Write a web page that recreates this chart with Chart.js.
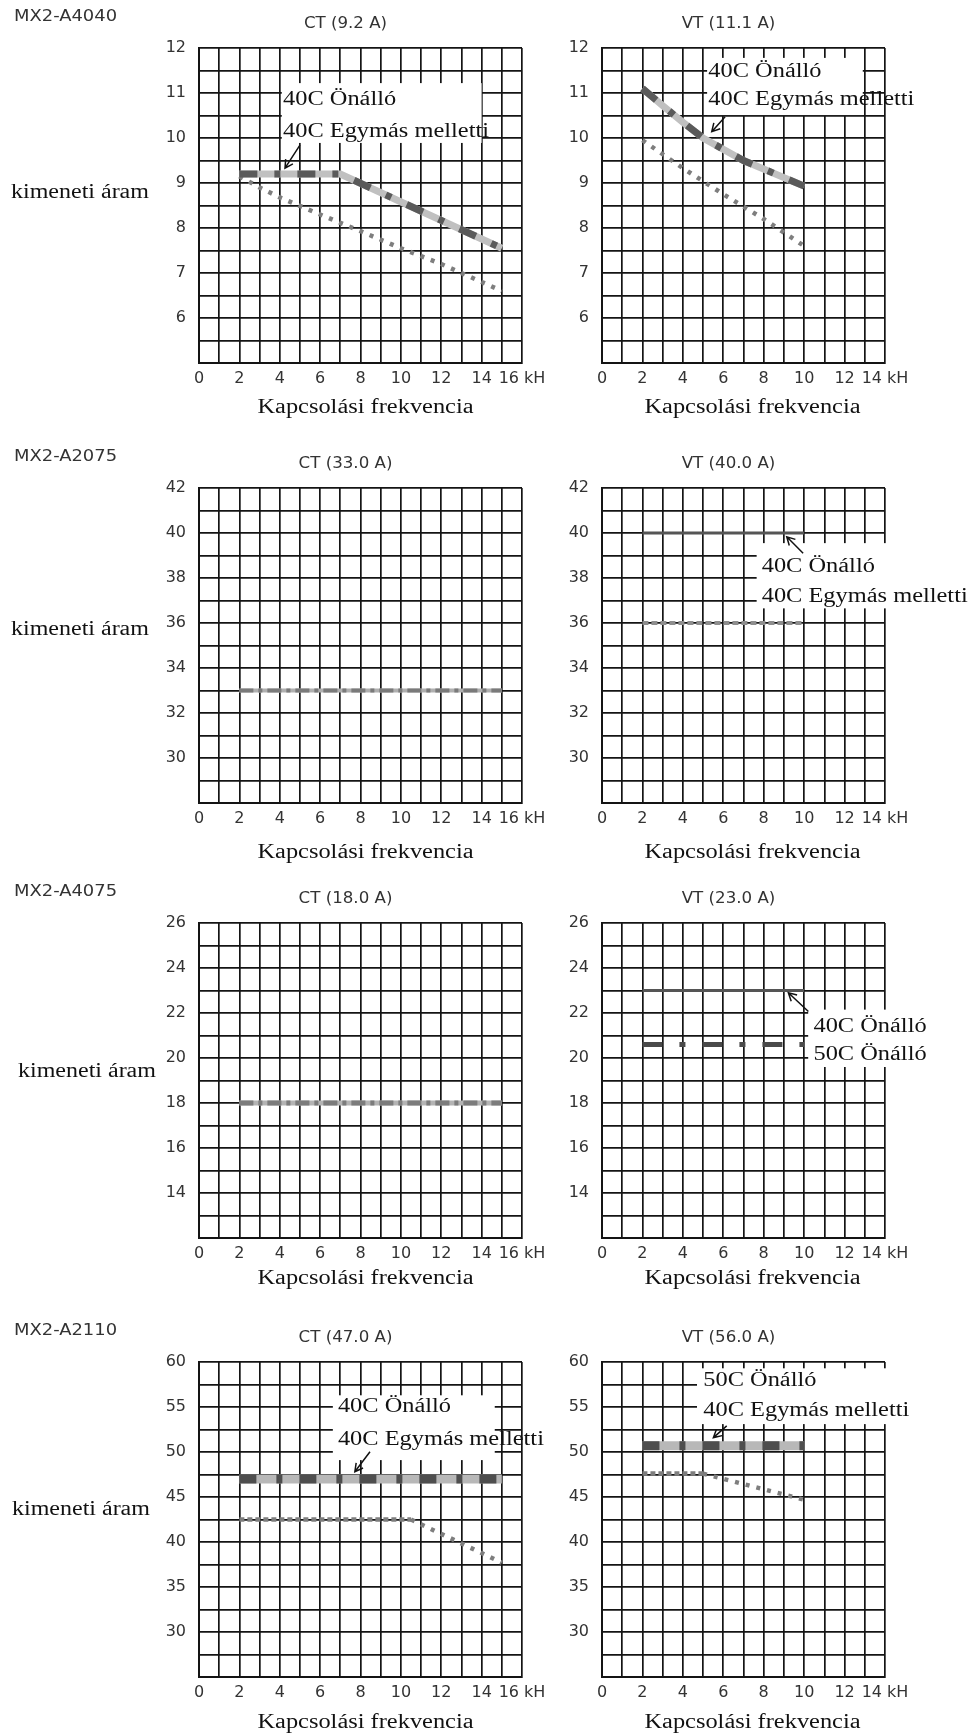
<!DOCTYPE html>
<html>
<head>
<meta charset="utf-8">
<title>MX2 derating</title>
<script src="https://cdn.jsdelivr.net/npm/chart.js@4.4.1/dist/chart.umd.min.js"></script>
<style>
  body { margin: 0; background: #fff; }
  #page { position: relative; width: 977px; height: 1736px; overflow: hidden; background: #fff; }
  #page canvas { position: absolute; }
</style>
</head>
<body>
<div id="page"></div>
<script>
// ---- labels ----
var models = ["MX2-A4040", "MX2-A2075", "MX2-A4075", "MX2-A2110"];
var ctTitles = ["CT (9.2 A)", "CT (33.0 A)", "CT (18.0 A)", "CT (47.0 A)"];
var vtTitles = ["VT (11.1 A)", "VT (40.0 A)", "VT (23.0 A)", "VT (56.0 A)"];
var yTitle = "kimeneti áram";
var xTitle = "Kapcsolási frekvencia";

// ---- x axis (kHz) ----
var ctXLabels = [0, 2, 4, 6, 8, 10, 12, 14, 16];
var vtXLabels = [0, 2, 4, 6, 8, 10, 12, 14];

// ---- y axes: [min, max, grid step] and labelled ticks ----
var yRange1 = [5, 12, 0.5];   var yLabels1 = [6, 7, 8, 9, 10, 11, 12];
var yRange2 = [28, 42, 1];    var yLabels2 = [30, 32, 34, 36, 38, 40, 42];
var yRange3 = [12, 26, 1];    var yLabels3 = [14, 16, 18, 20, 22, 24, 26];
var yRange4 = [25, 60, 2.5];  var yLabels4 = [30, 35, 40, 45, 50, 55, 60];

// ---- curves (freq kHz / current A) ----
// MX2-A4040
var a4040CtFreq = [2, 7, 15];
var a4040CtAmp = [9.2, 9.2, 7.55];
var a4040CtLowFreq = [2, 3, 4, 6, 8, 10, 12, 15];
var a4040CtLowAmp = [9.15, 8.9, 8.68, 8.3, 7.93, 7.55, 7.2, 6.6];
var a4040VtFreq = [2, 3, 4, 5, 7, 10];
var a4040VtAmp = [11.1, 10.72, 10.35, 10.0, 9.5, 8.93];
var a4040VtLowFreq = [2, 4, 6, 8, 10];
var a4040VtLowAmp = [9.95, 9.33, 8.75, 8.2, 7.6];
// MX2-A2075
var a2075CtFreq = [2, 15];
var a2075CtAmp = [33, 33];
var a2075VtFreq = [2, 10];
var a2075VtAmp = [40, 40];
var a2075VtLowFreq = [2, 10];
var a2075VtLowAmp = [36, 36];
// MX2-A4075
var a4075CtFreq = [2, 15];
var a4075CtAmp = [18, 18];
var a4075VtFreq = [2, 10];
var a4075VtAmp = [23, 23];
var a4075Vt50Freq = [2, 10];
var a4075Vt50Amp = [20.6, 20.6];
// MX2-A2110
var a2110CtFreq = [2, 15];
var a2110CtAmp = [47, 47];
var a2110CtLowFreq = [2, 10.5, 15];
var a2110CtLowAmp = [42.5, 42.5, 37.7];
var a2110VtFreq = [2, 10];
var a2110VtAmp = [50.7, 50.7];
var a2110VtLowFreq = [2, 5, 10];
var a2110VtLowAmp = [47.6, 47.6, 44.7];

// ---- layout ----
var PLOT_TOP = [48, 488, 923, 1362];
var PLOT_H = 315;
var TOP_PAD = 48;
var ROWS = [
  { yTitleDy: 145, yTitleX: 11, xTitleDy: 45 },
  { yTitleDy: 142, yTitleX: 11, xTitleDy: 50 },
  { yTitleDy: 149, yTitleX: 18, xTitleDy: 41 },
  { yTitleDy: 148, yTitleX: 12, xTitleDy: 46 }
];
var COLS = [
  { x: 0, w: 560, plotL: 199, plotR: 522, xMax: 16, xLabels: ctXLabels, xTitleDx: 5 },
  { x: 560, w: 417, plotL: 602, plotR: 885, xMax: 14, xLabels: vtXLabels, xTitleDx: 9 }
];

var SANS = '"DejaVu Sans", sans-serif';
var SERIF = '"Liberation Serif", "Times New Roman", serif';
var GRID = '#141414';

// line looks: layered strokes (under first)
var LOOK = {
  band:     [{ c: '#c0c0c0', w: 7 }, { c: '#5a5a5a', w: 7, d: [18, 17, 6, 17] }],
  bandWide: [{ c: '#b8b8b8', w: 9 }, { c: '#4e4e4e', w: 9, d: [17, 20, 6, 17] }],
  dots:     [{ c: '#7e7e7e', w: 4.5, d: [4, 7], flatDash: [5, 3] }],
  fine:     [{ c: '#8e8e8e', w: 4, d: [6, 3] }],
  grey:     [{ c: '#b0b0b0', w: 4 }, { c: '#7a7a7a', w: 4, d: [14, 5, 4, 5] }],
  greyWide: [{ c: '#b4b4b4', w: 5 }, { c: '#7c7c7c', w: 5, d: [14, 5, 4, 5] }],
  dark:     [{ c: '#555555', w: 3 }],
  dashDot:  [{ c: '#4a4a4a', w: 5, d: [20, 17, 6, 17] }]
};

function series(label, xs, ys, look) {
  var layers = LOOK[look];
  return layers.map(function (l, i) {
    var ds = {
      label: label,
      data: xs.map(function (x, k) { return { x: x, y: ys[k] }; }),
      borderColor: l.c,
      borderWidth: l.w,
      borderDash: l.d || [],
      borderCapStyle: 'butt',
      pointRadius: 0,
      tension: 0,
      fill: false,
      order: layers.length - i
    };
    if (l.flatDash) {
      ds.segment = {
        borderDash: function (c) {
          return c.p0.parsed.y === c.p1.parsed.y ? l.flatDash : l.d;
        }
      };
    }
    return ds;
  });
}

function stretchText(ctx, txt, x, y, font, sx, align) {
  ctx.save();
  ctx.font = font;
  ctx.textBaseline = 'middle';
  ctx.textAlign = 'left';
  var w = ctx.measureText(txt).width * sx;
  var left = align === 'center' ? x - w / 2 : x;
  ctx.translate(left, y);
  ctx.scale(sx, 1);
  ctx.fillText(txt, 0, 0);
  ctx.restore();
}

function panelDecor(p) {
  var row = ROWS[p.row], col = COLS[p.col];
  return {
    id: 'panelDecor',
    beforeDatasetsDraw: function (chart) {
      var ctx = chart.ctx, sx = chart.scales.x, sy = chart.scales.y;
      ctx.save();
      ctx.fillStyle = '#fff';
      (p.notes || []).forEach(function (n) {
        var x0 = sx.getPixelForValue(n.box[0]), x1 = sx.getPixelForValue(n.box[1]);
        var y0 = sy.getPixelForValue(n.box[2]), y1 = sy.getPixelForValue(n.box[3]);
        ctx.fillRect(x0, y0, x1 - x0, y1 - y0);
      });
      ctx.restore();
    },
    afterDatasetsDraw: function (chart) {
      var ctx = chart.ctx, sx = chart.scales.x, sy = chart.scales.y;
      ctx.save();
      ctx.fillStyle = '#111';
      ctx.strokeStyle = '#111';
      (p.notes || []).forEach(function (n) {
        var tx = sx.getPixelForValue(n.x);
        n.lines.forEach(function (ln) {
          stretchText(ctx, ln[0], tx, sy.getPixelForValue(ln[1]), '20px ' + SERIF, 1.22, 'left');
        });
        // arrow
        var fx = sx.getPixelForValue(n.arrow[0]), fy = sy.getPixelForValue(n.arrow[1]);
        var ex = sx.getPixelForValue(n.arrow[2]), ey = sy.getPixelForValue(n.arrow[3]);
        var a = Math.atan2(ey - fy, ex - fx);
        ctx.lineWidth = 1.5;
        ctx.beginPath();
        ctx.moveTo(fx, fy);
        ctx.lineTo(ex, ey);
        ctx.moveTo(ex - 9 * Math.cos(a - 0.5), ey - 9 * Math.sin(a - 0.5));
        ctx.lineTo(ex, ey);
        ctx.lineTo(ex - 9 * Math.cos(a + 0.5), ey - 9 * Math.sin(a + 0.5));
        ctx.stroke();
      });
      ctx.restore();
    },
    afterDraw: function (chart) {
      var ctx = chart.ctx, area = chart.chartArea;
      ctx.save();
      ctx.fillStyle = '#333';
      stretchText(ctx, p.title, (area.left - 30 + area.right) / 2, area.top - 24, '16px ' + SANS, 1.04, 'center');
      if (p.model) {
        stretchText(ctx, p.model, 14, area.top - 31, '16px ' + SANS, 1.12, 'left');
      }
      ctx.fillStyle = '#111';
      if (p.col === 0) {
        stretchText(ctx, yTitle, row.yTitleX, area.top + row.yTitleDy, '20px ' + SERIF, 1.2, 'left');
      }
      stretchText(ctx, xTitle, (area.left + area.right) / 2 + col.xTitleDx, area.bottom + row.xTitleDy, '20px ' + SERIF, 1.22, 'center');
      ctx.restore();
    }
  };
}

var page = document.getElementById('page');

function makePanel(p) {
  var col = COLS[p.col];
  var top = PLOT_TOP[p.row] - TOP_PAD;
  var h = (p.row < 3 ? PLOT_TOP[p.row + 1] - TOP_PAD : 1736) - top;
  var cv = document.createElement('canvas');
  cv.width = col.w;
  cv.height = h;
  cv.style.left = col.x + 'px';
  cv.style.top = top + 'px';
  cv.style.width = col.w + 'px';
  cv.style.height = h + 'px';
  page.appendChild(cv);

  var tickFont = { family: SANS, size: 16 };
  new Chart(cv.getContext('2d'), {
    type: 'line',
    data: { datasets: p.datasets },
    options: {
      responsive: false,
      animation: false,
      devicePixelRatio: 1,
      layout: { padding: { left: 0, top: TOP_PAD, right: col.w - (col.plotR - col.x), bottom: 0 } },
      plugins: { legend: { display: false }, tooltip: { enabled: false } },
      scales: {
        x: {
          type: 'linear',
          min: 0,
          max: col.xMax,
          afterFit: function (s) { s.height = h - TOP_PAD - PLOT_H; },
          ticks: {
            stepSize: 1,
            maxTicksLimit: 100,
            autoSkip: false,
            maxRotation: 0,
            padding: 6,
            color: '#333',
            font: tickFont,
            callback: function (v) {
              if (col.xLabels.indexOf(v) < 0) return '';
              return v === col.xMax ? v + ' kH' : String(v);
            }
          },
          grid: { color: GRID, lineWidth: 1.7, drawTicks: false },
          border: { color: GRID, width: 2 }
        },
        y: {
          type: 'linear',
          min: p.yRange[0],
          max: p.yRange[1],
          afterFit: function (s) { s.width = col.plotL - col.x; },
          ticks: {
            stepSize: p.yRange[2],
            maxTicksLimit: 100,
            autoSkip: false,
            padding: 13,
            color: '#333',
            font: tickFont,
            callback: function (v) { return p.yLabels.indexOf(v) < 0 ? '' : String(v); }
          },
          grid: { color: GRID, lineWidth: 1.7, drawTicks: false },
          border: { color: GRID, width: 2 }
        }
      }
    },
    plugins: [panelDecor(p)]
  });
}

var panels = [
  {
    row: 0, col: 0, model: models[0], title: ctTitles[0], yRange: yRange1, yLabels: yLabels1,
    datasets: [].concat(
      series('40C Önálló / 40C Egymás melletti', a4040CtFreq, a4040CtAmp, 'band'),
      series('alsó görbe', a4040CtLowFreq, a4040CtLowAmp, 'dots')),
    notes: [{ box: [4.1, 14.0, 11.22, 9.89], x: 4.16,
      lines: [['40C Önálló', 10.84], ['40C Egymás melletti', 10.13]],
      arrow: [5.0, 9.84, 4.26, 9.33] }]
  },
  {
    row: 0, col: 1, title: vtTitles[0], yRange: yRange1, yLabels: yLabels1,
    datasets: [].concat(
      series('40C Önálló / 40C Egymás melletti', a4040VtFreq, a4040VtAmp, 'band'),
      series('alsó görbe', a4040VtLowFreq, a4040VtLowAmp, 'dots')),
    notes: [{ box: [5.2, 12.9, 11.78, 10.51], x: 5.26,
      lines: [['40C Önálló', 11.47], ['40C Egymás melletti', 10.84]],
      arrow: [6.09, 10.47, 5.43, 10.14] }]
  },
  {
    row: 1, col: 0, model: models[1], title: ctTitles[1], yRange: yRange2, yLabels: yLabels2,
    datasets: series('CT', a2075CtFreq, a2075CtAmp, 'grey')
  },
  {
    row: 1, col: 1, title: vtTitles[1], yRange: yRange2, yLabels: yLabels2,
    datasets: [].concat(
      series('40C Önálló', a2075VtFreq, a2075VtAmp, 'dark'),
      series('40C Egymás melletti', a2075VtLowFreq, a2075VtLowAmp, 'fine')),
    notes: [{ box: [7.65, 18.4, 39.55, 36.65], x: 7.9,
      lines: [['40C Önálló', 38.49], ['40C Egymás melletti', 37.15]],
      arrow: [9.95, 39.1, 9.14, 39.83] }]
  },
  {
    row: 2, col: 0, model: models[2], title: ctTitles[2], yRange: yRange3, yLabels: yLabels3,
    datasets: series('CT', a4075CtFreq, a4075CtAmp, 'greyWide')
  },
  {
    row: 2, col: 1, title: vtTitles[2], yRange: yRange3, yLabels: yLabels3,
    datasets: [].concat(
      series('40C Önálló', a4075VtFreq, a4075VtAmp, 'dark'),
      series('50C Önálló', a4075Vt50Freq, a4075Vt50Amp, 'dashDot')),
    notes: [{ box: [10.2, 16.5, 22.15, 19.6], x: 10.46,
      lines: [['40C Önálló', 21.4], ['50C Önálló', 20.15]],
      arrow: [10.21, 22.07, 9.22, 22.9] }]
  },
  {
    row: 3, col: 0, model: models[3], title: ctTitles[3], yRange: yRange4, yLabels: yLabels4,
    datasets: [].concat(
      series('40C Önálló / 40C Egymás melletti', a2110CtFreq, a2110CtAmp, 'bandWide'),
      series('alsó görbe', a2110CtLowFreq, a2110CtLowAmp, 'dots')),
    notes: [{ box: [6.63, 14.65, 56.3, 49.1], x: 6.88,
      lines: [['40C Önálló', 55.03], ['40C Egymás melletti', 51.33]],
      arrow: [8.47, 50.03, 7.72, 47.81] }]
  },
  {
    row: 3, col: 1, title: vtTitles[3], yRange: yRange4, yLabels: yLabels4,
    datasets: [].concat(
      series('50C Önálló / 40C Egymás melletti', a2110VtFreq, a2110VtAmp, 'bandWide'),
      series('alsó görbe', a2110VtLowFreq, a2110VtLowAmp, 'dots')),
    notes: [{ box: [4.7, 14.5, 59.3, 53.1], x: 5.01,
      lines: [['50C Önálló', 57.9], ['40C Egymás melletti', 54.55]],
      arrow: [6.17, 52.9, 5.51, 51.6] }]
  }
];

panels.forEach(makePanel);
</script>
</body>
</html>
